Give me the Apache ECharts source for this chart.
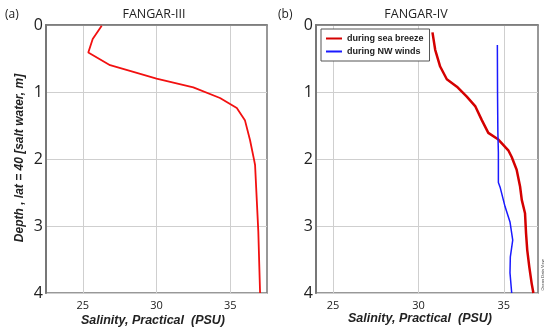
<!DOCTYPE html>
<html><head><meta charset="utf-8">
<script src="https://cdn.jsdelivr.net/npm/echarts@6/dist/echarts.min.js"></script>
<style>html,body{margin:0;padding:0;background:#fff}#c{width:550px;height:335px}</style>
</head><body><div id="c"></div>
<script>
// FANGAR-III profile
const depthA = [0.01, 0.21, 0.41, 0.60, 0.70, 0.80, 0.93, 1.09, 1.24, 1.42, 1.72, 2.01, 2.09, 3.08, 4.0];
const salA   = [26.28, 25.67, 25.37, 26.85, 28.43, 30.0, 32.5, 34.31, 35.45, 36.0, 36.35, 36.62, 36.69, 36.91, 37.03];
// FANGAR-IV, during sea breeze
const depthB = [0.11, 0.37, 0.62, 0.81, 0.92, 1.07, 1.21, 1.42, 1.61, 1.71, 1.87, 1.97, 2.16, 2.41, 2.61, 2.81, 3.11, 3.36, 3.61, 3.86, 4.0];
const salB   = [30.82, 30.98, 31.27, 31.66, 32.25, 32.83, 33.32, 33.71, 34.09, 34.68, 35.26, 35.46, 35.75, 35.95, 36.05, 36.24, 36.30, 36.37, 36.49, 36.63, 36.73];
// FANGAR-IV, during NW winds
const depthC = [0.30, 1.0, 1.6, 1.9, 2.35, 2.42, 2.71, 2.94, 3.21, 3.46, 3.70, 4.0];
const salC   = [34.62, 34.63, 34.65, 34.68, 34.68, 34.78, 35.07, 35.36, 35.52, 35.38, 35.36, 35.46];
const depthTicks = [0, 1, 2, 3, 4];
const salTicks = [25, 30, 35];
const legendNames = ['during sea breeze', 'during NW winds'];

const zip = (x, y) => x.map((v, i) => [v, y[i]]);
const chart = echarts.init(document.getElementById('c'), null, {renderer: 'canvas'});
const grey = '#cfcfcf';
function xAx(idx, min, max, step, colors) {
  return {type: 'value', gridIndex: idx, min, max, interval: step, position: 'bottom',
    axisLine: {show: true, lineStyle: {color: '#777', width: 1.5}}, axisTick: {show: false},
    axisLabel: {fontSize: 11, color: '#222', margin: 7, fontFamily: 'Open Sans',
      formatter: v => salTicks.indexOf(Math.round(v * 100) / 100) >= 0 ? String(v) : ''},
    splitLine: {show: true, showMinLine: true, showMaxLine: true, lineStyle: {color: colors, width: 1}}};
}
function yAx(idx) {
  return {type: 'value', gridIndex: idx, min: 0, max: 4, interval: 1, inverse: true,
    axisLine: {show: true, lineStyle: {color: '#777', width: 2}}, axisTick: {show: false},
    axisLabel: {fontSize: 16, color: '#222', margin: 3, fontFamily: 'Open Sans',
      formatter: v => depthTicks.indexOf(v) >= 0 ? String(v) : ''},
    splitLine: {show: true, lineStyle: {color: grey, width: 1}}};
}
chart.setOption({
  animation: false,
  grid: [
    {left: 46, right: 283, top: 25, bottom: 42, show: true, borderColor: '#777', borderWidth: 1.5},
    {left: 316, right: 12, top: 25, bottom: 42, show: true, borderColor: '#777', borderWidth: 1.5}
  ],
  xAxis: [
    xAx(0, 22.5, 37.5, 2.5, ['transparent', grey]),
    xAx(1, 24, 37, 1, ['transparent', grey, 'transparent', 'transparent', 'transparent'])
  ],
  yAxis: [yAx(0), yAx(1)],
  legend: {
    data: legendNames, left: 321, top: 29, orient: 'vertical', icon: 'rect',
    itemWidth: 16, itemHeight: 2, itemGap: 2, padding: [4, 6, 4, 5],
    borderColor: '#555', borderWidth: 1, backgroundColor: '#fff',
    textStyle: {fontSize: 9, fontWeight: 'bold', color: '#222', fontFamily: 'Liberation Sans', lineHeight: 11}
  },
  series: [
    {type: 'line', xAxisIndex: 0, yAxisIndex: 0, data: zip(salA, depthA), symbol: 'none',
      lineStyle: {color: '#f21010', width: 1.8}},
    {name: legendNames[0], type: 'line', xAxisIndex: 1, yAxisIndex: 1, data: zip(salB, depthB), symbol: 'none',
      itemStyle: {color: '#d40000'}, lineStyle: {color: '#d40000', width: 2.5}},
    {name: legendNames[1], type: 'line', xAxisIndex: 1, yAxisIndex: 1, data: zip(salC, depthC), symbol: 'none',
      itemStyle: {color: '#1a1aff'}, lineStyle: {color: '#1a1aff', width: 1.5}}
  ],
  graphic: [
    {type: 'text', left: 5, top: 9, style: {text: '(a)', fontSize: 12, fill: '#222', fontFamily: 'Open Sans'}},
    {type: 'text', left: 278, top: 9, style: {text: '(b)', fontSize: 12, fill: '#222', fontFamily: 'Open Sans'}},
    {type: 'text', x: 154, y: 14, style: {text: 'FANGAR-III', fontSize: 12.5, fill: '#222', fontFamily: 'Open Sans', align: 'center', verticalAlign: 'middle'}},
    {type: 'text', x: 416, y: 14, style: {text: 'FANGAR-IV', fontSize: 12.5, fill: '#222', fontFamily: 'Open Sans', align: 'center', verticalAlign: 'middle'}},
    {type: 'text', x: 153, y: 321, style: {text: 'Salinity, Practical  (PSU)', fontSize: 12.5, fontWeight: 'bold', fontStyle: 'italic', fill: '#222', fontFamily: 'Arial, Liberation Sans', align: 'center', verticalAlign: 'middle'}},
    {type: 'text', x: 420, y: 319, style: {text: 'Salinity, Practical  (PSU)', fontSize: 12.5, fontWeight: 'bold', fontStyle: 'italic', fill: '#222', fontFamily: 'Arial, Liberation Sans', align: 'center', verticalAlign: 'middle'}},
    {type: 'text', x: 20, y: 158, rotation: Math.PI / 2, style: {text: 'Depth , lat = 40 [salt water, m]', fontSize: 12, fontWeight: 'bold', fontStyle: 'italic', fill: '#222', fontFamily: 'Arial, Liberation Sans', align: 'center', verticalAlign: 'middle'}},
    {type: 'text', x: 543, y: 275, rotation: Math.PI / 2, style: {text: 'Ocean Data View', fontSize: 4, fill: '#444', fontFamily: 'Arial', align: 'center', verticalAlign: 'middle'}}
  ]
});
</script></body></html>
